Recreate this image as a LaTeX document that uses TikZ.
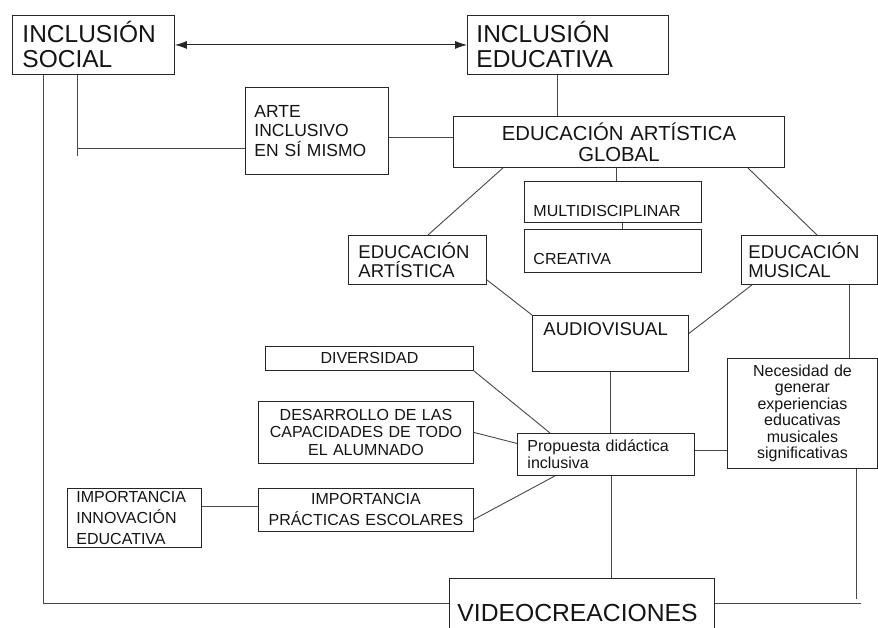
\documentclass[tikz,border=0pt]{standalone}
\usepackage{fontspec}
\setmainfont{Liberation Sans}
\usepackage{tikz}
\usetikzlibrary{arrows.meta}
\tikzset{>={Latex[length=12pt,width=8pt]}}
\tikzset{box/.style={draw=black!85,line width=0.9pt,inner ysep=0pt,anchor=north west,text=black!92}}
\tikzset{link/.style={line width=0.9pt,draw=black!72}}
\tikzset{big/.style={font=\fontsize{24.5}{25}\selectfont}}
\tikzset{mid/.style={font=\fontsize{18.5}{19.5}\selectfont}}
\tikzset{small/.style={font=\fontsize{16}{17.5}\selectfont}}

\begin{document}
\begin{tikzpicture}[x=1pt,y=-1pt]
                    \useasboundingbox (0,0) rectangle (878,628);
                    \clip (0,0) rectangle (878,628);

                    \node[box,big,inner xsep=10pt,text width=142pt,minimum height=59pt,align=left] (isoc) at (12,15) {INCLUSIÓN\\SOCIAL};
                    \node[box,big,inner xsep=9pt,text width=183pt,minimum height=59pt,align=left] (iedu) at (467,15) {INCLUSIÓN\\EDUCATIVA};
                    \node[box,font=\fontsize{17.5}{19.5}\selectfont,inner xsep=9pt,text width=125pt,minimum height=87pt,align=left] (arte) at (245,87) {ARTE\\INCLUSIVO\\EN SÍ MISMO\\[8pt]};
                    \node[box,font=\fontsize{20.3}{21}\selectfont,inner xsep=5pt,text width=321pt,minimum height=51pt,align=center] (glob) at (453,116) {EDUCACIÓN ARTÍSTICA\\GLOBAL};
                    \node[box,small,inner xsep=9pt,text width=159pt,text height=35pt,text depth=6pt,align=left] (mult) at (524,181) {MULTIDISCIPLINAR};
                    \node[box,small,inner xsep=9pt,text width=159pt,text height=35pt,text depth=8pt,align=left] (crea) at (524,229) {CREATIVA};
                    \node[box,mid,inner xsep=10pt,text width=118pt,minimum height=49pt,align=left] (eart) at (348,235) {EDUCACIÓN\\ARTÍSTICA};
                    \node[box,mid,inner xsep=7pt,text width=122pt,minimum height=49pt,align=left] (emus) at (741,235) {EDUCACIÓN\\MUSICAL};
                    \node[box,mid,inner xsep=11pt,text width=134pt,text height=20pt,text depth=36pt,align=left] (audi) at (532,315) {AUDIOVISUAL};
                    \node[box,small,inner xsep=5pt,text width=198pt,minimum height=24pt,align=center] (dive) at (265,346) {DIVERSIDAD};
                    \node[box,small,inner xsep=5pt,text width=205pt,minimum height=62pt,align=center] (desa) at (258,401) {DESARROLLO DE LAS\\CAPACIDADES DE TODO\\EL ALUMNADO};
                    \node[box,font=\fontsize{16}{17}\selectfont,inner xsep=10pt,text width=157pt,minimum height=42pt,align=left] (prop) at (517,433) {Propuesta didáctica\\inclusiva};
                    \node[box,font=\fontsize{16}{16.4}\selectfont,inner xsep=5pt,text width=140pt,minimum height=110pt,align=center] (nece) at (727,358) {Necesidad de\\generar\\experiencias\\educativas\\musicales\\significativas};
                    \node[box,font=\fontsize{16}{21}\selectfont,inner xsep=9pt,text width=116pt,minimum height=59pt,align=left] (inno) at (67,488) {IMPORTANCIA\\INNOVACIÓN\\EDUCATIVA};
                    \node[box,font=\fontsize{16}{21}\selectfont,inner xsep=5pt,text width=205pt,minimum height=43pt,align=center] (prac) at (258,488) {IMPORTANCIA\\PRÁCTICAS ESCOLARES};
                    \node[box,font=\fontsize{24.7}{26}\selectfont,inner xsep=8pt,text width=249pt,text height=43pt,text depth=17pt,align=left] (vide) at (449,578) {VIDEOCREACIONES};

                    \draw[<->,line width=0.9pt,black!85] (isoc.east) -- (iedu.west);
                    \draw[link] ([xshift=65pt]isoc.south west) coordinate (s1) |- ([yshift=-18pt]arte.west);
                    \draw[link] (s1) -- ++(0,81);
                    \draw[link] ([xshift=31pt]isoc.south west) |- ([yshift=5pt]vide.west);
                    \draw[link] ([yshift=-6.5pt]arte.east) -- ([yshift=4.5pt]glob.west);
                    \draw[link] ([xshift=-10.5pt]iedu.south) -- ([xshift=-10.5pt]iedu.south |- glob.north);
                    \draw[link] ([xshift=3.5pt]mult.north) -- ([xshift=3.5pt]mult.north |- glob.south);
                    \draw[link] ([xshift=9.5pt]mult.south) -- ([xshift=9.5pt]crea.north);
                    \draw[link] ([xshift=50pt]glob.south west) -- ([xshift=80pt]eart.north west);
                    \draw[link] ([xshift=-37pt]glob.south east) -- ([xshift=76pt]emus.north west);
                    \draw[link] ([yshift=5pt]eart.south east) -- (audi.north west);
                    \draw[link] ([xshift=11pt]emus.south west) -- ([yshift=10pt]audi.east);
                    \draw[link] ([xshift=40pt]emus.south) -- ([xshift=40pt]emus.south |- nece.north);
                    \draw[link] (audi.south) -- (audi.south |- prop.north);
                    \draw[link] ([xshift=5.5pt]prop.south) -- ([xshift=5.5pt]prop.south |- vide.north);
                    \draw[link] ([yshift=4pt]prop.east) -- ([yshift=4pt]prop.east -| nece.west);
                    \draw[link] ([xshift=54pt]nece.south) -- ++(0,130);
                    \draw[link] ([yshift=5pt]vide.east) -- ++(146,0);
                    \draw[link] (dive.south east) -- ([xshift=33pt]prop.north west);
                    \draw[link] (desa.east) -- ([yshift=11pt]prop.west);
                    \draw[link] ([yshift=-9.5pt]prac.east) -- ([xshift=38pt]prop.south west);
                    \draw[link] ([yshift=11.5pt]inno.east) -- ([yshift=11.5pt]inno.east -| prac.west);

                \end{tikzpicture}
\end{document}
